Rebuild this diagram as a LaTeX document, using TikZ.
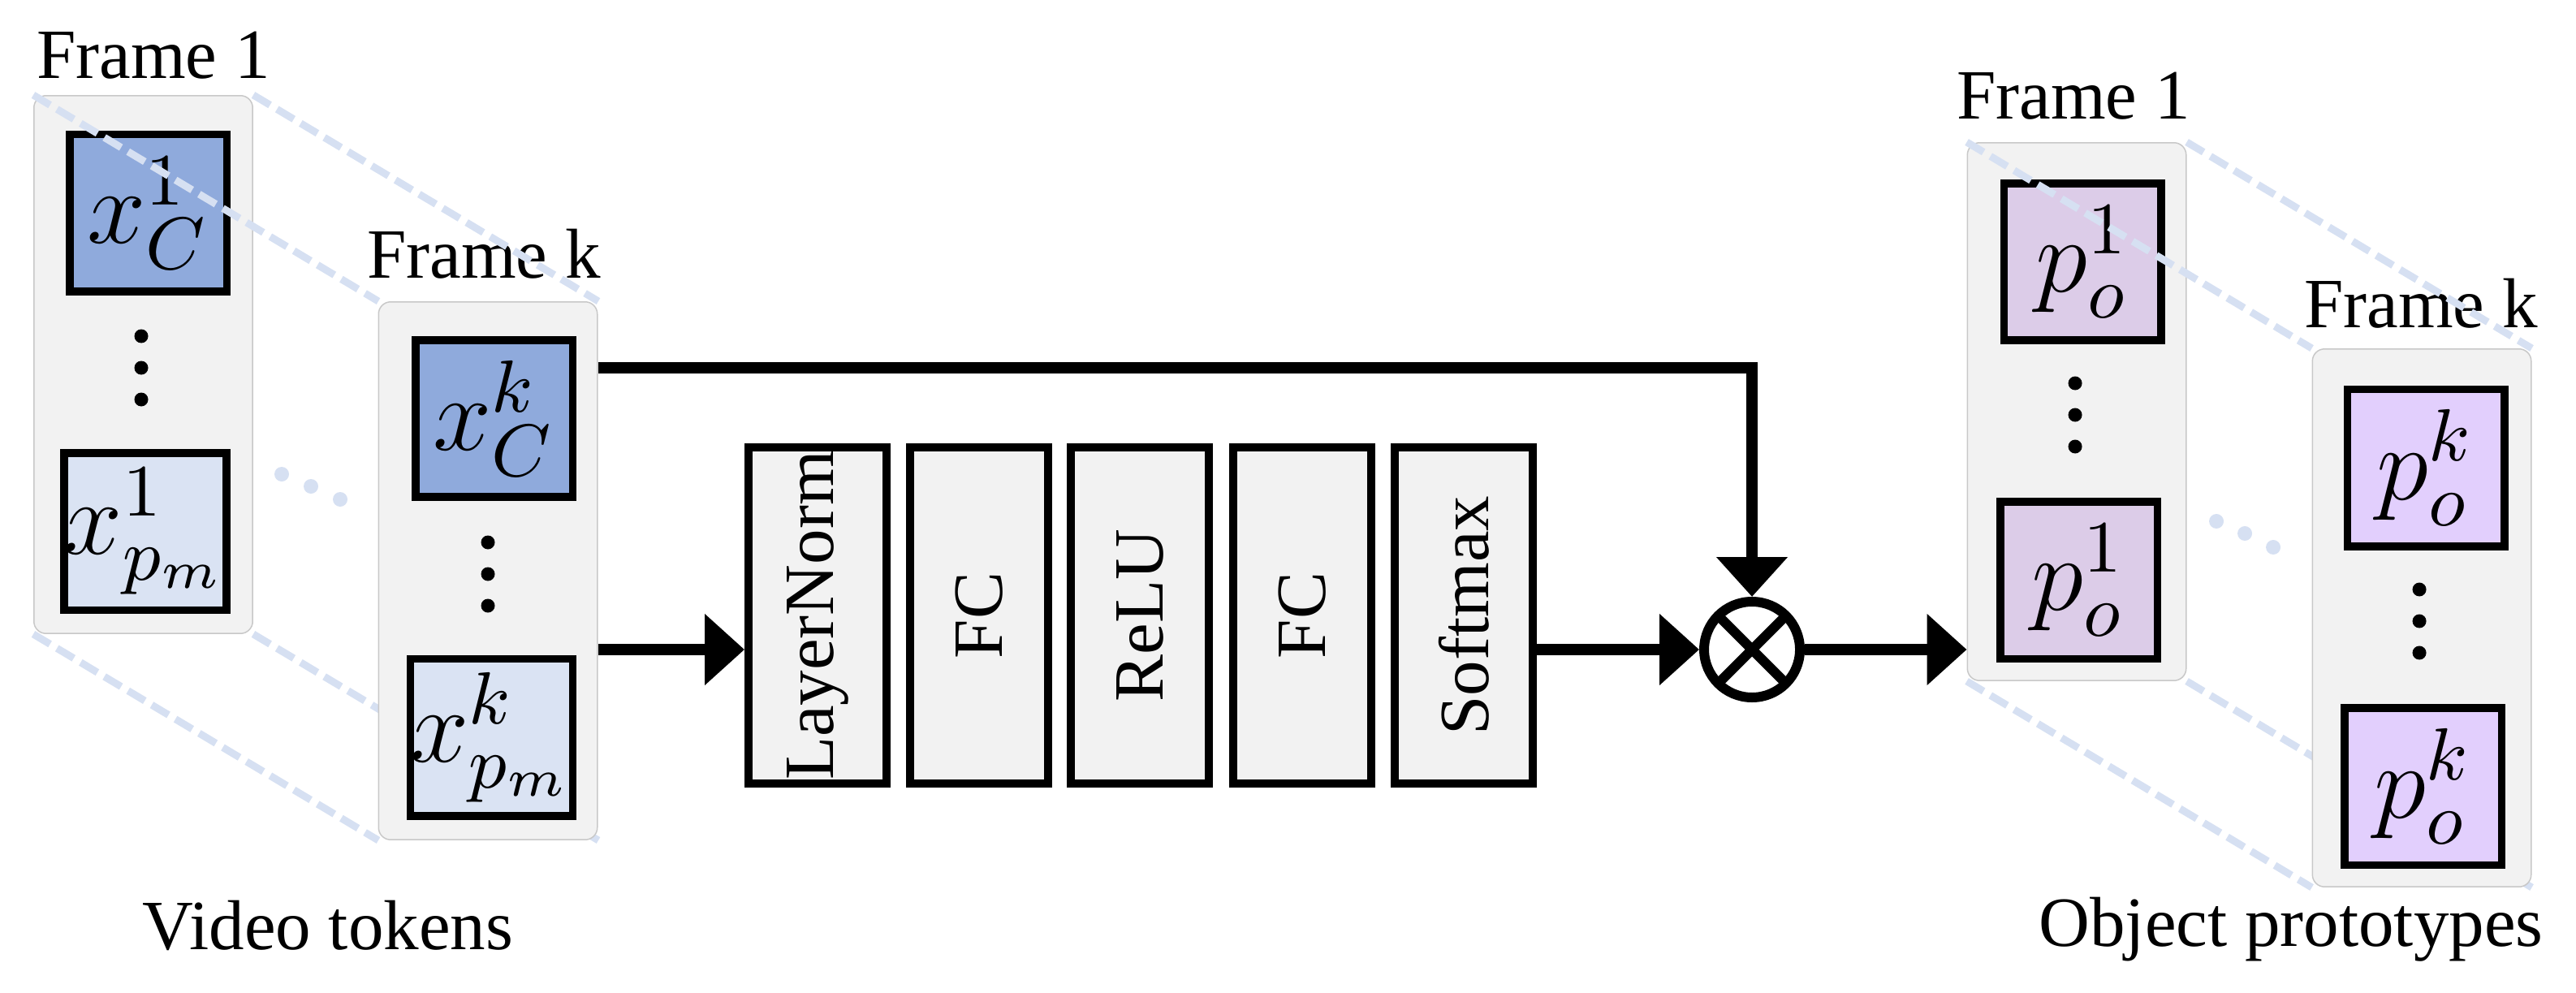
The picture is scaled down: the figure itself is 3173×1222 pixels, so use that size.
\RequirePackage{fix-cm}
\documentclass[tikz,border=0pt]{standalone}
\usepackage{fontspec}
\setmainfont{Liberation Serif}
\usetikzlibrary{arrows.meta,calc}
\definecolor{tokA}{HTML}{8FAADC}
\definecolor{tokB}{HTML}{DAE3F3}
\definecolor{proA}{HTML}{DCCCE8}
\definecolor{proB}{HTML}{E2CFFD}
\definecolor{frameg}{HTML}{F2F2F2}
\definecolor{frameb}{HTML}{C8C8C8}
\definecolor{linkc}{HTML}{D6E0F2}
\begin{document}
\begin{tikzpicture}[x=0.1pt,y=-0.1pt,font=\fontsize{8.7}{10}\selectfont,
  framebox/.style={draw=frameb,line width=0.15pt,fill=frameg,rounded corners=1.5pt,
    minimum width=26.95pt,minimum height=66.25pt,inner sep=0pt},
  tok/.style={draw=black,line width=0.95pt,minimum size=19.35pt,inner sep=0pt,
    font=\fontsize{13}{15}\selectfont},
  layerbox/.style={draw=black,line width=1pt,fill=frameg,minimum width=17pt,
    minimum height=41.4pt,inner sep=0pt},
  ltext/.style={rotate=90,inner sep=0pt,font=\fontsize{8.7}{10}\selectfont},
  arr/.style={line width=1.4pt,-{Triangle[length=4.9pt,width=8.5pt]}},
  link/.style={draw=linkc,line width=0.9pt,dash pattern=on 2.4pt off 1pt},
  lab/.style={anchor=base,inner sep=0pt}]
\useasboundingbox (0,0) rectangle (3173,1222);

% ---------- labels ----------
\node[lab] (lf1lab) at (189,97) {Frame 1};
\node[lab] (lfklab) at (596,342) {Frame k};
\node[lab] (rf1lab) at (2554,147) {Frame 1};
\node[lab] (rfklab) at (2982,404) {Frame k};
\node[lab] (vt) at (404,1169) {Video tokens};
\node[lab] (op) at (2822,1165) {Object prototypes};

% ---------- left: Frame 1 ----------
\node[framebox] (lf1) at (176.5,449) {};
\node[tok,fill=tokA] (xc1) at (182.5,262.5) {$x_C^1$};
\node[tok,fill=tokB] (xp1) at (179,654.5) {$x_{p_m}^1$};
\foreach \yy in {414,453,492} \fill (174,\yy) circle[radius=0.85pt];

% links left
\draw[link] (lf1.north west) -- ($(lf1.north west)+(425,254)$) coordinate (lk1);
\draw[link] (lf1.north east) -- ($(lf1.north east)+(425,254)$) coordinate (lk2);
\draw[link] (lf1.south west) -- ($(lf1.south west)+(425,254)$) coordinate (lk3);
\draw[link] (lf1.south east) -- ($(lf1.south east)+(425,254)$) coordinate (lk4);
\foreach \px/\py in {347/584,383/599,419/615} \fill[linkc] (\px,\py) circle[radius=0.9pt];

% ---------- left: Frame k ----------
\node[framebox] (lfk) at (601,703) {};
\node[tok,fill=tokA] (xck) at (608.5,515.5) {$x_C^k$};
\node[tok,fill=tokB] (xpk) at (605.5,908) {$x_{p_m}^k$};
\foreach \yy in {668,707,746} \fill (601,\yy) circle[radius=0.85pt];

% ---------- right: Frame 1 ----------
\node[framebox] (rf1) at (2558,507) {};
\node[tok,fill=proA] (po1a) at (2565,322.5) {$p_o^1$};
\node[tok,fill=proA] (po1b) at (2560.5,714.5) {$p_o^1$};
\foreach \yy in {472,511,550} \fill (2556,\yy) circle[radius=0.85pt];

% links right
\draw[link] (rf1.north west) -- ($(rf1.north west)+(425,254)$) coordinate (rk1);
\draw[link] (rf1.north east) -- ($(rf1.north east)+(425,254)$) coordinate (rk2);
\draw[link] (rf1.south west) -- ($(rf1.south west)+(425,254)$) coordinate (rk3);
\draw[link] (rf1.south east) -- ($(rf1.south east)+(425,254)$) coordinate (rk4);
\foreach \px/\py in {2730/642,2765/657,2800/674} \fill[linkc] (\px,\py) circle[radius=0.9pt];

% ---------- right: Frame k ----------
\node[framebox] (rfk) at (2983,761) {};
\node[tok,fill=proB] (poka) at (2988,576) {$p_o^k$};
\node[tok,fill=proB] (pokb) at (2984.5,968.5) {$p_o^k$};
\foreach \yy in {726,765,804} \fill (2980,\yy) circle[radius=0.85pt];

% ---------- middle layers ----------
\node[layerbox] (ln)  at (1007,758) {};
\node[layerbox] (fc1) at (1206,758) {};
\node[layerbox] (rl)  at (1404,758) {};
\node[layerbox] (fc2) at (1604,758) {};
\node[layerbox] (sm)  at (1803,758) {};
\node[ltext] (lnt)  at (ln.center)  {LayerNorm};
\node[ltext] (fc1t) at (fc1.center) {FC};
\node[ltext] (rlt)  at (rl.center)  {ReLU};
\node[ltext] (fc2t) at (fc2.center) {FC};
\node[ltext] (smt)  at (sm.center)  {Softmax};

% ---------- multiply ----------
\node[circle,draw=black,line width=1.2pt,minimum size=11.8pt,inner sep=0pt] (mul) at (2158,800) {};
\draw[line width=1.2pt,shorten <=0.6pt,shorten >=0.6pt] (mul.45) -- (mul.225);
\draw[line width=1.2pt,shorten <=0.6pt,shorten >=0.6pt] (mul.135) -- (mul.315);

% ---------- arrows ----------
\coordinate (my) at (0,800);
\coordinate (ty) at (0,453);
\draw[arr] (lfk.east |- my) -- (ln.west |- my);
\draw[arr] (sm.east |- my) -- (mul.west);
\draw[arr] (mul.east) -- (rf1.west |- my);
\draw[arr] (lfk.east |- ty) -| (mul.north);
\end{tikzpicture}
\end{document}
